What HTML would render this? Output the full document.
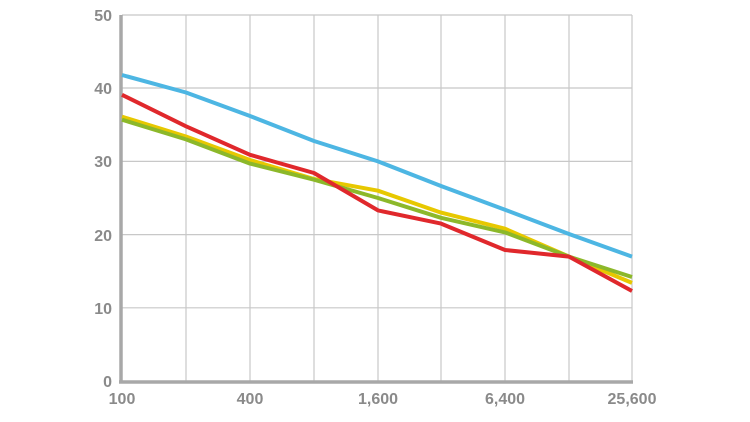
<!DOCTYPE html><html><head><style>body{margin:0;background:#fff}svg{display:block}text{font-family:"Liberation Sans",sans-serif;font-weight:bold;fill:#8a8a8a;font-size:16px}</style></head><body>
<svg width="750" height="422" viewBox="0 0 750 422">
<g stroke="#c8c8c8" stroke-width="1.2">
<line x1="122" y1="15" x2="632" y2="15"/><line x1="122" y1="88" x2="632" y2="88"/><line x1="122" y1="161.4" x2="632" y2="161.4"/><line x1="122" y1="234.6" x2="632" y2="234.6"/><line x1="122" y1="307.8" x2="632" y2="307.8"/>
<line x1="186" y1="15" x2="186" y2="381"/><line x1="250" y1="15" x2="250" y2="381"/><line x1="314" y1="15" x2="314" y2="381"/><line x1="378" y1="15" x2="378" y2="381"/><line x1="441" y1="15" x2="441" y2="381"/><line x1="505" y1="15" x2="505" y2="381"/><line x1="569" y1="15" x2="569" y2="381"/><line x1="632" y1="15" x2="632" y2="381"/>
</g>
<g stroke="#a8a8a8" stroke-width="3.5"><line x1="121" y1="15" x2="121" y2="383"/><line x1="119" y1="382" x2="633" y2="382"/></g>
<g fill="none" stroke-width="4" stroke-linejoin="round">
<polyline stroke="#4db6e3" points="122,75 186,92.5 250,116 314,141 378,161.4 441,186 505,209.7 569,234 632,256.6"/>
<polyline stroke="#e7c800" points="122,116.7 186,136.5 250,160 314,179 378,190.7 441,212.6 505,228.7 569,256.6 632,282.9"/>
<polyline stroke="#8cb82a" points="122,119.7 186,139.4 250,163.6 314,179.7 378,198 441,217.8 505,232.4 569,256.6 632,277"/>
<polyline stroke="#e0282c" points="122,94.8 186,126.3 250,154.8 314,173 378,210.4 441,223.6 505,250 569,256.6 632,291"/>
</g>
<g text-anchor="end"><text x="112" y="21">50</text><text x="112" y="94">40</text><text x="112" y="167">30</text><text x="112" y="241">20</text><text x="112" y="314">10</text><text x="112" y="387">0</text></g>
<g text-anchor="middle"><text x="122" y="404">100</text><text x="250" y="404">400</text><text x="378" y="404">1,600</text><text x="505" y="404">6,400</text><text x="632" y="404">25,600</text></g>
</svg></body></html>
